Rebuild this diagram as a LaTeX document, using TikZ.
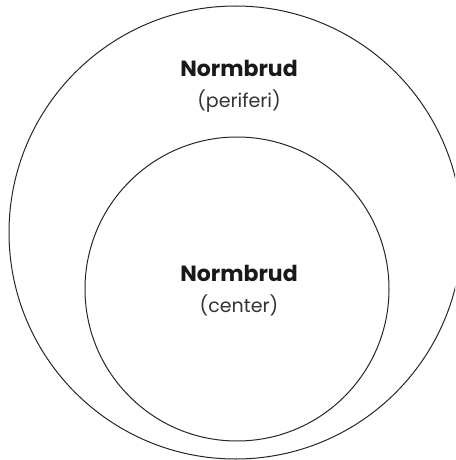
\documentclass[tikz,border=0pt]{standalone}
\usepackage{fontspec}
\setmainfont{Poppins}
\begin{document}
\begin{tikzpicture}[x=1pt,y=-1pt,
  ring/.style={draw=black!85,line width=1pt},
  title/.style={anchor=base,font=\fontsize{22}{26}\selectfont\bfseries,text=black!90,inner sep=0},
  sub/.style={anchor=base,font=\fontsize{19}{23}\selectfont,text=black!80,inner sep=0}]
\useasboundingbox (0,0) rectangle (455,460);
\begin{scope}
\clip (0,0) rectangle (455,460);
\draw[ring] (235.5,232.5) circle[radius=226.5];
\draw[ring] (237,289) circle[radius=152];
\end{scope}
\node[title] (t1) at (239,76) {Normbrud};
\node[sub] (s1) at (239,107) {(periferi)};
\node[title] (t2) at (239,281) {Normbrud};
\node[sub] (s2) at (239,312) {(center)};
\end{tikzpicture}
\end{document}
